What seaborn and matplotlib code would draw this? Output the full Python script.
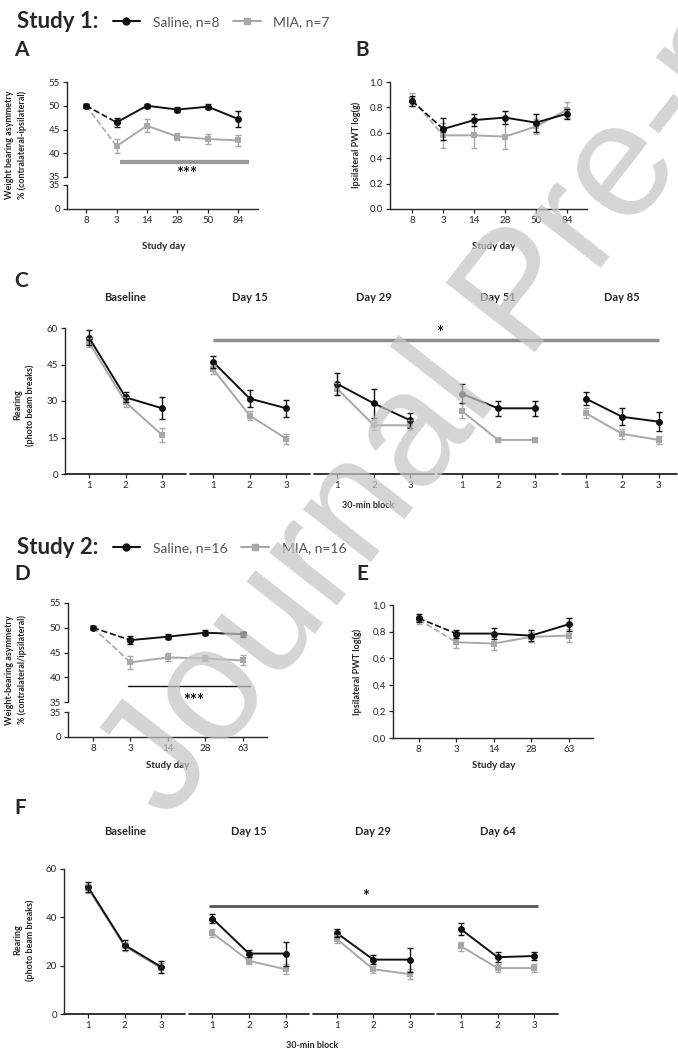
import pandas as pd
import matplotlib
matplotlib.use("Agg")
import matplotlib.pyplot as plt
from matplotlib.lines import Line2D
import seaborn as sns

# ---- data ----
days_1 = ["8", "3", "14", "28", "50", "84"]
a_saline = [50, 46.5, 50, 49.2, 49.8, 47.2]
a_saline_err = [0.4, 0.9, 0.4, 0.5, 0.5, 1.6]
a_mia = [50, 41.5, 45.8, 43.5, 43.0, 42.7]
a_mia_err = [0.4, 1.4, 1.4, 0.8, 1.0, 1.1]

b_saline = [0.85, 0.63, 0.70, 0.72, 0.68, 0.75]
b_saline_err = [0.04, 0.09, 0.05, 0.05, 0.07, 0.04]
b_mia = [0.86, 0.58, 0.58, 0.57, 0.65, 0.78]
b_mia_err = [0.05, 0.10, 0.10, 0.10, 0.06, 0.06]

c_sessions = ["Baseline", "Day 15", "Day 29", "Day 51", "Day 85"]
c_saline = [[56, 31.5, 27], [46, 31, 27], [37, 29, 22], [33, 27, 27], [31, 23.5, 21.5]]
c_saline_err = [[3, 2, 4.5], [2.5, 3.5, 3.5], [4.5, 6, 3], [4, 3, 3], [2.5, 3.5, 4]]
c_mia = [[54, 29.5, 16], [43, 24, 14.5], [35, 20, 20], [26, 14, 14], [25, 16.5, 14]]
c_mia_err = [[2, 2, 3], [2, 2, 2], [2.5, 2, 2], [3, 1, 1], [2, 2, 1.5]]

days_2 = ["8", "3", "14", "28", "63"]
d_saline = [50, 47.5, 48.2, 49, 48.7]
d_saline_err = [0.3, 0.8, 0.5, 0.5, 0.5]
d_mia = [50, 43, 44, 43.8, 43.4]
d_mia_err = [0.3, 1.3, 0.8, 0.5, 1.0]

e_saline = [0.90, 0.785, 0.785, 0.77, 0.855]
e_saline_err = [0.03, 0.03, 0.04, 0.04, 0.05]
e_mia = [0.89, 0.72, 0.71, 0.76, 0.77]
e_mia_err = [0.03, 0.04, 0.05, 0.04, 0.05]

f_sessions = ["Baseline", "Day 15", "Day 29", "Day 64"]
f_saline = [[52.5, 28.5, 19.5], [39.5, 25, 25], [33.5, 22.5, 22.5], [35, 23.5, 24]]
f_saline_err = [[2, 2, 2.5], [2, 1.5, 5], [1.5, 2, 5], [2.5, 2, 1.5]]
f_mia = [[52, 28, 19], [33.5, 22, 18.5], [31, 18.5, 16.5], [28, 19, 19]]
f_mia_err = [[2, 2, 2], [1.5, 1.5, 2], [1.5, 1.5, 2], [2, 1.5, 1.5]]

BLACK = "#111111"
GRAY = "#a8a8a8"
GROUP = 3.4  # spacing between sessions, in blocks

sns.set_style("ticks")
plt.rcParams["font.family"] = ["Lato", "DejaVu Sans"]
plt.rcParams["xtick.labelsize"] = 7
plt.rcParams["ytick.labelsize"] = 7
plt.rcParams["axes.linewidth"] = 1.0

W, H = 678, 1051
fig = plt.figure(figsize=(W / 100, H / 100), dpi=100)


def box(l, t, r, b):
    return fig.add_axes([l / W, 1 - b / H, (r - l) / W, (b - t) / H])


def ftext(x, y, s, **kw):
    fig.text(x / W, 1 - y / H, s, **kw)


def style(ax):
    sns.despine(ax=ax)
    ax.tick_params(length=3, width=0.9, pad=2)
    ax.set(xlabel="", ylabel="")


def draw_series(ax, y, err, color, marker):
    df = pd.DataFrame({"x": range(len(y)), "y": y})
    sns.lineplot(data=df.iloc[1:], x="x", y="y", color=color, marker=marker,
                 markersize=5, markeredgewidth=0, lw=1.4, ax=ax)
    sns.lineplot(data=df.iloc[:2], x="x", y="y", color=color, marker=marker,
                 markersize=5, markeredgewidth=0, lw=1.2, linestyle="--", ax=ax)
    ax.errorbar(df.x, df.y, yerr=err, fmt="none", ecolor=color, elinewidth=1,
                capsize=2.5, capthick=1)


def weight_panel(l, r, top, mid1, mid2, bottom, labels, sal, sal_err, mia, mia_err, x0):
    ax = box(l, top, r, mid1)
    axb = box(l, mid2, r, bottom)
    draw_series(ax, mia, mia_err, GRAY, "s")
    draw_series(ax, sal, sal_err, BLACK, "o")
    for a in (ax, axb):
        style(a)
        a.set_xlim(x0, len(labels) - 0.35)
    ax.set_ylim(35, 55)
    ax.set_yticks([35, 40, 45, 50, 55])
    ax.spines["bottom"].set_visible(False)
    ax.set_xticks([])
    axb.set_ylim(0, 35)
    axb.set_yticks([0, 35])
    axb.set_xticks(range(len(labels)))
    axb.set_xticklabels(labels)
    return ax


def pwt_panel(l, r, top, bottom, labels, sal, sal_err, mia, mia_err, x0, ticklabels):
    ax = box(l, top, r, bottom)
    draw_series(ax, mia, mia_err, GRAY, "s")
    draw_series(ax, sal, sal_err, BLACK, "o")
    style(ax)
    ax.set_xlim(x0, len(labels) - 0.35)
    ax.set_ylim(0, 1.0)
    ax.set_yticks([0, 0.2, 0.4, 0.6, 0.8, 1.0])
    ax.set_yticklabels(ticklabels)
    ax.set_xticks(range(len(labels)))
    ax.set_xticklabels(labels)
    return ax


def rearing_panel(l, r, top, bottom, sessions, sal, sal_err, mia, mia_err, ymax, yticks, right_lim):
    ax = box(l, top, r, bottom)
    rows = []
    for g, s in enumerate(sessions):
        for b in range(3):
            rows.append(dict(pos=g * GROUP + b, session=s, group="MIA",
                             value=mia[g][b], err=mia_err[g][b]))
            rows.append(dict(pos=g * GROUP + b, session=s, group="Saline",
                             value=sal[g][b], err=sal_err[g][b]))
    df = pd.DataFrame(rows)
    sns.lineplot(data=df, x="pos", y="value", hue="group", style="group",
                 units="session", estimator=None, hue_order=["MIA", "Saline"],
                 palette={"MIA": GRAY, "Saline": BLACK},
                 markers={"MIA": "s", "Saline": "o"}, dashes=False,
                 markersize=5, markeredgewidth=0, lw=1.4, legend=False, ax=ax)
    for grp, c in (("MIA", GRAY), ("Saline", BLACK)):
        sub = df[df.group == grp]
        ax.errorbar(sub.pos, sub.value, yerr=sub.err, fmt="none", ecolor=c,
                    elinewidth=1, capsize=2.5, capthick=1)
    style(ax)
    ax.spines["bottom"].set_visible(False)
    ax.set_xlim(-0.66, right_lim)
    ax.set_ylim(0, ymax)
    ax.set_yticks(yticks)
    ax.set_xticks([g * GROUP + b for g in range(len(sessions)) for b in range(3)])
    ax.set_xticklabels(["1", "2", "3"] * len(sessions))
    # broken x axis, one piece per session
    for g in range(len(sessions)):
        a = -0.66 if g == 0 else g * GROUP - 0.65
        b = min(g * GROUP + 2.65, right_lim)
        ax.plot([a, b], [0, 0], color=BLACK, lw=1.2, clip_on=False)
    return ax


def header(y, title, labels):
    ftext(17, y, title, fontsize=16, fontweight="bold", va="center")
    handles = [Line2D([0], [0], color=BLACK, marker="o", lw=1.5, ms=5),
               Line2D([0], [0], color=GRAY, marker="s", lw=1.5, ms=5)]
    fig.legend(handles, labels, loc="center left",
               bbox_to_anchor=(100 / W, 1 - y / H), ncol=2, frameon=False,
               fontsize=10, handlelength=2.0, handletextpad=0.9,
               columnspacing=1.0, labelcolor="#555555")


# ---------------- Study 1 ----------------
header(22, "Study 1:", ["Saline, n=8", "MIA, n=7"])

ftext(14, 50, "A", fontsize=15, fontweight="bold", va="center")
axA = weight_panel(67, 258, 82, 177, 185, 209, days_1, a_saline, a_saline_err,
                   a_mia, a_mia_err, -0.63)
axA.plot([1.12, 5.36], [38.1, 38.1], color="#999999", lw=3, solid_capstyle="butt")
axA.text(3.3, 35.6, "***", ha="center", va="center", fontsize=12, fontweight="bold",
         color=BLACK, clip_on=False)
ftext(16, 145, "Weight bearing asymmetry\n% (contralateral-ipsilateral)", rotation=90,
      fontsize=6.5, fontweight="bold", ha="center", va="center", linespacing=1.5)
ftext(164, 247, "Study day", fontsize=7, fontweight="bold", ha="center", va="center")

ftext(355, 50, "B", fontsize=15, fontweight="bold", va="center")
pwt_panel(390, 587, 82, 209, days_1, b_saline, b_saline_err, b_mia, b_mia_err, -0.72,
          ["0.0", "0.2", "0.4", "0.6", "0.8", "1.0"])
ftext(356, 145, "Ipsilateral PWT log(g)", rotation=90, fontsize=6.5,
      fontweight="bold", ha="center", va="center")
ftext(494, 247, "Study day", fontsize=7, fontweight="bold", ha="center", va="center")

ftext(14, 281, "C", fontsize=15, fontweight="bold", va="center")
axC = rearing_panel(65, 677, 328, 474, c_sessions, c_saline, c_saline_err,
                    c_mia, c_mia_err, 60, [0, 15, 30, 45, 60], 16.1)
for g, s in enumerate(c_sessions):
    axC.text(g * GROUP + 1, 72.5, s, ha="center", va="center", fontsize=8,
             fontweight="bold", clip_on=False)
axC.plot([GROUP, 4 * GROUP + 2], [55, 55], color="#8c8c8c", lw=2.5, solid_capstyle="butt")
axC.text(9.6, 58, "*", ha="center", va="center", fontsize=12, fontweight="bold", color=BLACK)
ftext(24, 405, "Rearing\n(photo beam breaks)", rotation=90, fontsize=6.5,
      fontweight="bold", ha="center", va="center", linespacing=1.5)
ftext(368, 506, "30-min block", fontsize=6.5, fontweight="bold", ha="center", va="center")

# ---------------- Study 2 ----------------
header(548, "Study 2:", ["Saline, n=16", "MIA, n=16"])

ftext(14, 574, "D", fontsize=15, fontweight="bold", va="center")
axD = weight_panel(68, 267, 603, 702, 712, 737, days_2, d_saline, d_saline_err,
                   d_mia, d_mia_err, -0.67)
axD.plot([0.93, 4.2], [38.3, 38.3], color=BLACK, lw=1)
axD.text(2.7, 35.3, "***", ha="center", va="center", fontsize=12, fontweight="bold",
         color=BLACK, clip_on=False)
ftext(16, 670, "Weight-bearing asymmetry\n% (contralateral/ipsilateral)", rotation=90,
      fontsize=6.5, fontweight="bold", ha="center", va="center", linespacing=1.5)
ftext(168, 765, "Study day", fontsize=7, fontweight="bold", ha="center", va="center")

ftext(356, 574, "E", fontsize=15, fontweight="bold", va="center")
pwt_panel(393, 593, 605, 738, days_2, e_saline, e_saline_err, e_mia, e_mia_err, -0.69,
          ["0,0", "0,2", "0,4", "0,6", "0,8", "1,0"])
ftext(357, 672, "Ipsilateral PWT log(g)", rotation=90, fontsize=6.5,
      fontweight="bold", ha="center", va="center")
ftext(494, 765, "Study day", fontsize=7, fontweight="bold", ha="center", va="center")

ftext(14, 808, "F", fontsize=15, fontweight="bold", va="center")
axF = rearing_panel(64, 558, 869, 1014, f_sessions, f_saline, f_saline_err,
                    f_mia, f_mia_err, 60, [0, 20, 40, 60], 12.85)
for g, s in enumerate(f_sessions):
    axF.text(g * GROUP + 1, 75.5, s, ha="center", va="center", fontsize=8,
             fontweight="bold", clip_on=False)
axF.plot([3.3, 12.3], [44.6, 44.6], color="#555555", lw=2, solid_capstyle="butt")
axF.text(7.6, 48.5, "*", ha="center", va="center", fontsize=12, fontweight="bold", color=BLACK)
ftext(24, 940, "Rearing\n(photo beam breaks)", rotation=90, fontsize=6.5,
      fontweight="bold", ha="center", va="center", linespacing=1.5)
ftext(312, 1046, "30-min block", fontsize=6.5, fontweight="bold", ha="center", va="center")

# watermark, running off the top-right corner as in the source
fig.text(168 / W, 1 - 822 / H, "Journal Pre-proof", rotation=52, rotation_mode="anchor",
         ha="left", va="baseline", fontsize=118, color="#c4c4c4", alpha=0.72,
         family=["Liberation Sans", "DejaVu Sans"], zorder=10)

fig.savefig("out.png", dpi=100)
